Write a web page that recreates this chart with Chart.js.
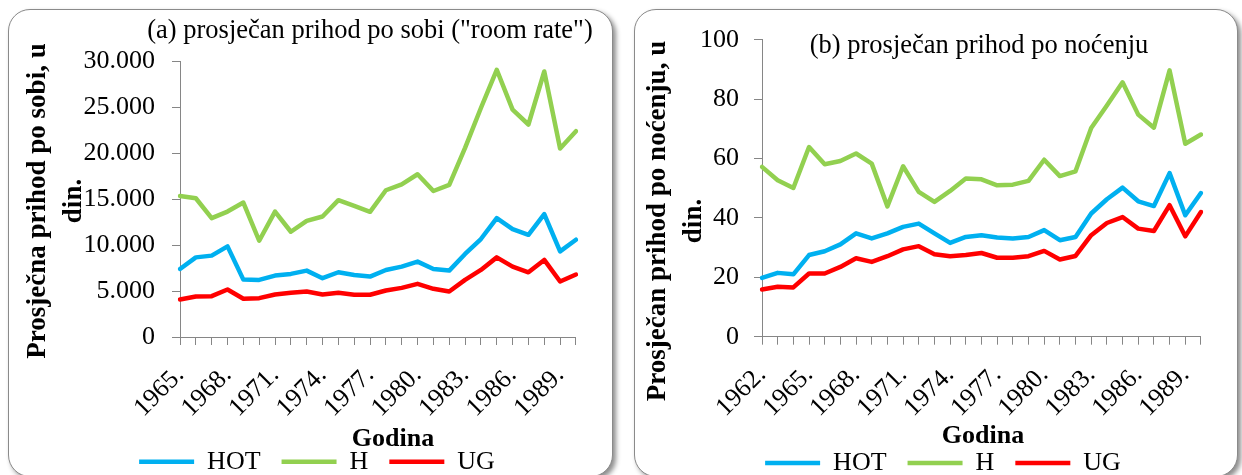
<!DOCTYPE html>
<html><head><meta charset="utf-8">
<script src="https://cdn.jsdelivr.net/npm/chart.js@4"></script>
<style>
html,body{margin:0;padding:0;background:#fff;width:1242px;height:475px;overflow:hidden;position:relative}
.panel{position:absolute;box-sizing:border-box;border:1.5px solid #8a8a8a;border-radius:22px;background:#fff;box-shadow:3px 3px 5px rgba(0,0,0,0.45)}
.wrap{position:absolute}
</style></head><body>
<div class="panel" style="left:8px;top:9px;width:605px;height:468px"></div>
<div class="panel" style="left:634px;top:9px;width:604px;height:468px"></div>
<div class="wrap" style="left:8px;top:9px;width:605px;height:466px"><canvas id="cA"></canvas></div>
<div class="wrap" style="left:634px;top:9px;width:604px;height:466px"><canvas id="cB"></canvas></div>
<script>
// ---- data: (a) average revenue per room ----
const yearsA = ['1965.','1966.','1967.','1968.','1969.','1970.','1971.','1972.','1973.','1974.','1975.','1976.','1977.','1978.','1979.','1980.','1981.','1982.','1983.','1984.','1985.','1986.','1987.','1988.','1989.','1990.'];
const hotA = [7410, 8670, 8860, 9870, 6250, 6220, 6690, 6870, 7230, 6400, 7050, 6760, 6580, 7300, 7660, 8210, 7410, 7230, 9040, 10670, 12940, 11750, 11130, 13380, 9330, 10590];
const hA   = [15360, 15110, 12940, 13660, 14640, 10480, 13660, 11460, 12650, 13120, 14900, 14280, 13630, 15980, 16630, 17720, 15900, 16560, 20600, 24940, 29100, 24760, 23140, 28910, 20530, 22410];
const ugA  = [4090, 4410, 4450, 5170, 4160, 4230, 4630, 4810, 4950, 4630, 4810, 4600, 4600, 5060, 5350, 5790, 5250, 4950, 6220, 7300, 8670, 7660, 7050, 8390, 6040, 6800];

// ---- data: (b) average revenue per overnight stay ----
const yearsB = ['1962.','1963.','1964.','1965.','1966.','1967.','1968.','1969.','1970.','1971.','1972.','1973.','1974.','1975.','1976.','1977.','1978.','1979.','1980.','1981.','1982.','1983.','1984.','1985.','1986.','1987.','1988.','1989.','1990.'];
const hotB = [19.8, 21.5, 21.0, 27.5, 28.8, 31.1, 34.8, 33.1, 34.8, 37.0, 38.1, 34.8, 31.6, 33.6, 34.2, 33.4, 33.1, 33.6, 35.9, 32.5, 33.6, 41.5, 46.3, 50.2, 45.6, 44.0, 55.1, 40.9, 48.4];
const hB   = [57.2, 52.7, 50.1, 63.9, 58.1, 59.2, 61.7, 58.3, 43.9, 57.4, 48.8, 45.4, 49.1, 53.3, 53.0, 51.0, 51.2, 52.5, 59.6, 54.1, 55.7, 70.3, 77.9, 85.7, 74.8, 70.4, 89.7, 65.0, 68.1];
const ugB  = [15.9, 16.8, 16.6, 21.3, 21.3, 23.5, 26.4, 25.2, 27.1, 29.4, 30.5, 27.8, 27.1, 27.5, 28.2, 26.6, 26.6, 27.1, 28.9, 26.0, 27.2, 34.2, 38.3, 40.3, 36.4, 35.6, 44.3, 33.8, 42.0];

const seriesNames = ['HOT', 'H', 'UG'];
const titleA = '(a) prosječan prihod po sobi ("room rate")';
const titleB = '(b) prosječan prihod po noćenju';
const yTitleA = ['Prosječna prihod po sobi, u', 'din.'];
const yTitleB = ['Prosječan prihod po noćenju, u', 'din.'];
const xTitle = 'Godina';

const BLUE = '#00B0F0', GREEN = '#92D050', RED = '#FF0000', AXIS = '#868686';
Chart.defaults.font.family = "'Liberation Serif', 'Times New Roman', serif";
Chart.defaults.color = '#000';

function fmt(v) { return String(v).replace(/\B(?=(\d{3})+(?!\d))/g, '.'); }

// place title & legend boxes at given centres (canvas coords)
const placer = {
  id: 'placer',
  afterLayout(chart, args, opts) {
    const t = chart.titleBlock;
    if (t && opts.title) {
      const lh = Chart.helpers.toFont(t.options.font).lineHeight;
      const cx = (t.left + t.right) / 2, cy = t.top + lh / 2;
      const dx = opts.title.x - cx, dy = opts.title.y - cy;
      t.left += dx; t.right += dx; t.top += dy; t.bottom += dy;
    }
    const l = chart.legend;
    if (l && opts.legend) {
      const fs = Chart.helpers.toFont(l.options.labels.font).size;
      const cx = (l.left + l.right) / 2, cy = l.top + l.options.labels.padding + fs / 2;
      const dx = opts.legend.x - cx, dy = opts.legend.y - cy;
      l.left += dx; l.right += dx; l.top += dy; l.bottom += dy;
    }
  }
};

// draw an axis title centred at a given point (line 1 for multi-line)
function titleAt(scale, pos) {
  if (scale.__wrapped) return;
  scale.__wrapped = true;
  const orig = scale.drawTitle;
  scale.drawTitle = function () {
    const o = this.options.title;
    if (!o.display) return;
    const font = Chart.helpers.toFont(o.font);
    const pad = Chart.helpers.toPadding(o.padding);
    let cx, cy;
    if (this.isHorizontal()) { cx = (this.left + this.right) / 2; cy = this.bottom - pad.bottom - font.lineHeight / 2; }
    else { cx = this.left + pad.top + font.lineHeight / 2; cy = (this.top + this.bottom) / 2; }
    const t = this.top, b = this.bottom, l = this.left, r = this.right;
    this.ctx.save();
    this.ctx.translate(pos.x - cx, pos.y - cy);
    if (this.isHorizontal()) { this.left = l - 300; this.right = r + 300; }
    else { this.top = t - 300; this.bottom = b + 300; }
    orig.call(this);
    this.top = t; this.bottom = b; this.left = l; this.right = r;
    this.ctx.restore();
  };
}

function ds(label, data, color) {
  return { label, data, borderColor: color, backgroundColor: color, borderWidth: 4.5,
    pointRadius: 0, pointHoverRadius: 0, tension: 0,
    borderJoinStyle: 'round', borderCapStyle: 'round', fill: false };
}

function makeChart(id, labels, hot, h, ug, cfg) {
  const gridOpts = { display: true, drawOnChartArea: false, drawTicks: true, tickLength: 8, color: AXIS, lineWidth: 1 };
  return new Chart(document.getElementById(id), {
    type: 'line',
    data: { labels, datasets: [ds(seriesNames[0], hot, BLUE), ds(seriesNames[1], h, GREEN), ds(seriesNames[2], ug, RED)] },
    options: {
      responsive: true, maintainAspectRatio: false, animation: false,
      layout: { padding: cfg.padding },
      plugins: {
        title: { display: true, text: cfg.title, color: '#000', font: { size: 26.5, weight: 'normal', lineHeight: 1 }, padding: 0 },
        legend: { position: 'bottom', labels: { usePointStyle: true, pointStyle: 'line', pointStyleWidth: 55, padding: 21, color: '#000', font: { size: 26 } } },
        tooltip: { enabled: false },
        placer: { title: cfg.titlePos, legend: cfg.legendPos }
      },
      scales: {
        x: {
          type: 'category', offset: false,
          grid: gridOpts,
          border: { display: true, color: AXIS, width: 1 },
          ticks: { autoSkip: false, maxRotation: 45, minRotation: 45, padding: 15, color: '#000', font: { size: 26 },
            callback: function (v, i) { return i % 3 === 0 ? this.getLabelForValue(v) : ''; } },
          title: { display: true, text: xTitle, color: '#000', font: { size: 26, weight: 'bold' }, padding: 0 },
          afterFit: s => {
            const lg = s.chart.legend ? s.chart.legend.height : 0;
            s.height = s.chart.height - cfg.padding.bottom - lg - cfg.areaBottom;
            titleAt(s, cfg.xTitlePos);
          }
        },
        y: {
          min: 0, max: cfg.yMax,
          grid: gridOpts,
          border: { display: true, color: AXIS, width: 1 },
          ticks: { stepSize: cfg.yStep, padding: cfg.yPad, color: '#000', font: { size: 26 }, callback: v => fmt(v) },
          title: { display: true, text: cfg.yTitle, color: '#000', font: { size: 27, weight: 'bold', lineHeight: 36 / 27 }, padding: 0 },
          afterFit: s => { s.width = cfg.areaLeft - cfg.padding.left; titleAt(s, cfg.yTitlePos); }
        }
      }
    },
    plugins: [placer]
  });
}

makeChart('cA', yearsA, hotA, hA, ugA, {
  title: titleA, yTitle: yTitleA, yMax: 30000, yStep: 5000, yPad: 17,
  padding: { left: 0, right: 36, top: 26, bottom: 0 },
  areaLeft: 172, areaBottom: 328,
  titlePos: { x: 362, y: 22 }, legendPos: { x: 309, y: 452.7 },
  yTitlePos: { x: 30, y: 192 }, xTitlePos: { x: 385, y: 430 }
});
makeChart('cB', yearsB, hotB, hB, ugB, {
  title: titleB, yTitle: yTitleB, yMax: 100, yStep: 20, yPad: 15,
  padding: { left: 0, right: 35, top: 4.3, bottom: 0 },
  areaLeft: 128, areaBottom: 327.7,
  titlePos: { x: 345, y: 37 }, legendPos: { x: 309, y: 454 },
  yTitlePos: { x: 24, y: 212 }, xTitlePos: { x: 349, y: 427 }
});
</script>
</body></html>
